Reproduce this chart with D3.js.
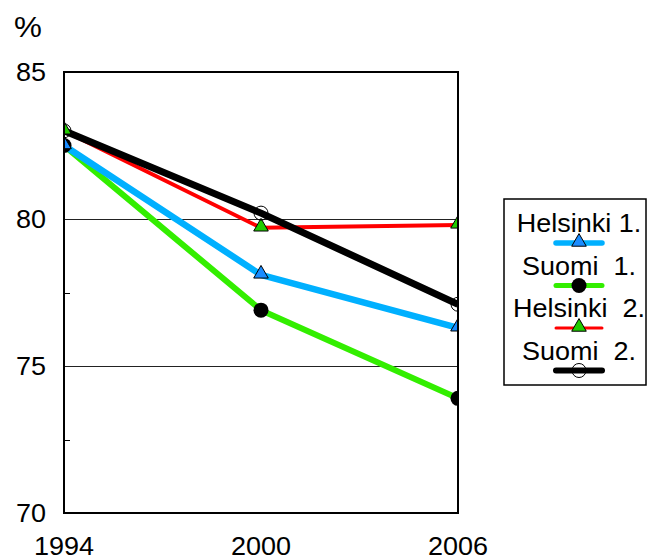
<!DOCTYPE html>
<html><head><meta charset="utf-8">
<script src="https://cdn.jsdelivr.net/npm/d3@7"></script>
<style>body{margin:0;background:#fff}text{font-family:"Liberation Sans",Arial,sans-serif}</style>
</head><body><svg id="c" width="647" height="557"></svg>
<script>
const years = [1994, 2000, 2006];
const helsinki1 = [82.5, 78.1, 76.3];
const suomi1 = [82.5, 76.9, 73.9];
const helsinki2 = [83.0, 79.7, 79.8];
const suomi2 = [83.0, 80.2, 77.1];
const yTicks = [70, 75, 80, 85];
const yMinor = [72.5, 77.5, 82.5];
const legendLabels = ["Helsinki 1.", "Suomi  1.", "Helsinki  2.", "Suomi  2."];

const series = [
  {name: legendLabels[1], values: suomi1, line: "#33ee00", w: 6, marker: "circle", fill: "#000", r: 7.5},
  {name: legendLabels[0], values: helsinki1, line: "#00b0ff", w: 6.5, marker: "triangle", fill: "#1a8cff"},
  {name: legendLabels[2], values: helsinki2, line: "#ff0000", w: 4, marker: "triangle", fill: "#22cc00"},
  {name: legendLabels[3], values: suomi2, line: "#000000", w: 7, marker: "open", fill: "none", r: 7}
];
const legendOrder = [1, 0, 2, 3];

const svg = d3.select("#c");
const L = 64, R = 458, T = 72, B = 513;
const x = d3.scalePoint().domain(years).range([L, R]);
const y = d3.scaleLinear().domain([70, 85]).range([B, T]);
const SX = 1.08;
function txt(sel, tx, ty, s, anchor, size) {
  return sel.append("text").attr("transform", `translate(${tx},${ty}) scale(${SX},1)`)
    .attr("text-anchor", anchor).attr("font-size", size).style("white-space", "pre").text(s);
}

svg.append("defs").append("clipPath").attr("id", "pc")
  .append("rect").attr("x", L).attr("y", T).attr("width", R - L).attr("height", B - T);

// gridlines
svg.append("g").attr("shape-rendering", "crispEdges").selectAll("line")
  .data(yTicks.filter(v => v > 70 && v < 85)).join("line")
  .attr("x1", L).attr("x2", R).attr("y1", d => Math.round(y(d)) + 0.5).attr("y2", d => Math.round(y(d)) + 0.5)
  .attr("stroke", "#222").attr("stroke-width", 1);
// minor ticks inside
svg.append("g").attr("shape-rendering", "crispEdges").selectAll("line").data(yMinor).join("line")
  .attr("x1", L).attr("x2", L + 6).attr("y1", d => Math.round(y(d)) + 0.5).attr("y2", d => Math.round(y(d)) + 0.5)
  .attr("stroke", "#000").attr("stroke-width", 1);

const g = svg.append("g").attr("clip-path", "url(#pc)");
const line = d3.line().x((d, i) => x(years[i])).y(d => y(d));
series.forEach(s => {
  g.append("path").datum(s.values).attr("d", line).attr("fill", "none")
    .attr("stroke", s.line).attr("stroke-width", s.w).attr("stroke-linejoin", "round");
});
const tri = d3.symbol().type(d3.symbolTriangle).size(92);
function drawMarker(sel, s, cx, cy) {
  if (s.marker === "triangle") {
    sel.append("path").attr("d", tri()).attr("transform", `translate(${cx},${cy - 1})`)
      .attr("fill", s.fill).attr("stroke", "#000").attr("stroke-width", 1);
  } else if (s.marker === "circle") {
    sel.append("circle").attr("cx", cx).attr("cy", cy).attr("r", s.r).attr("fill", "#000");
  } else {
    sel.append("circle").attr("cx", cx).attr("cy", cy).attr("r", s.r).attr("fill", "none")
      .attr("stroke", "#000").attr("stroke-width", 1);
  }
}
series.forEach(s => s.values.forEach((v, i) => drawMarker(g, s, x(years[i]), y(v))));

// frame
svg.append("rect").attr("x", L).attr("y", T).attr("width", R - L).attr("height", B - T)
  .attr("fill", "none").attr("stroke", "#000").attr("stroke-width", 2);

// y labels
const yl = svg.append("g");
yTicks.forEach(d => txt(yl, 46, y(d) + 9, d, "end", 25));
txt(svg, 14, 37, "%", "start", 29);
// x labels
const xl = svg.append("g");
years.forEach(d => txt(xl, x(d), 555, d, "middle", 25));

// legend
const lg = svg.append("g");
lg.append("rect").attr("x", 504).attr("y", 199).attr("width", 142).attr("height", 186)
  .attr("fill", "#fff").attr("stroke", "#000").attr("stroke-width", 1.5);
legendOrder.forEach((si, k) => {
  const s = series[si];
  const by = 232 + k * 42.5;
  txt(lg, 579, by, s.name, "middle", 25);
  const ly = by + 11;
  lg.append("line").attr("x1", 556).attr("x2", 602).attr("y1", ly).attr("y2", ly)
    .attr("stroke", s.line).attr("stroke-width", s.w - 1).attr("stroke-linecap", "round");
  drawMarker(lg, s, 579, ly);
});
</script></body></html>
